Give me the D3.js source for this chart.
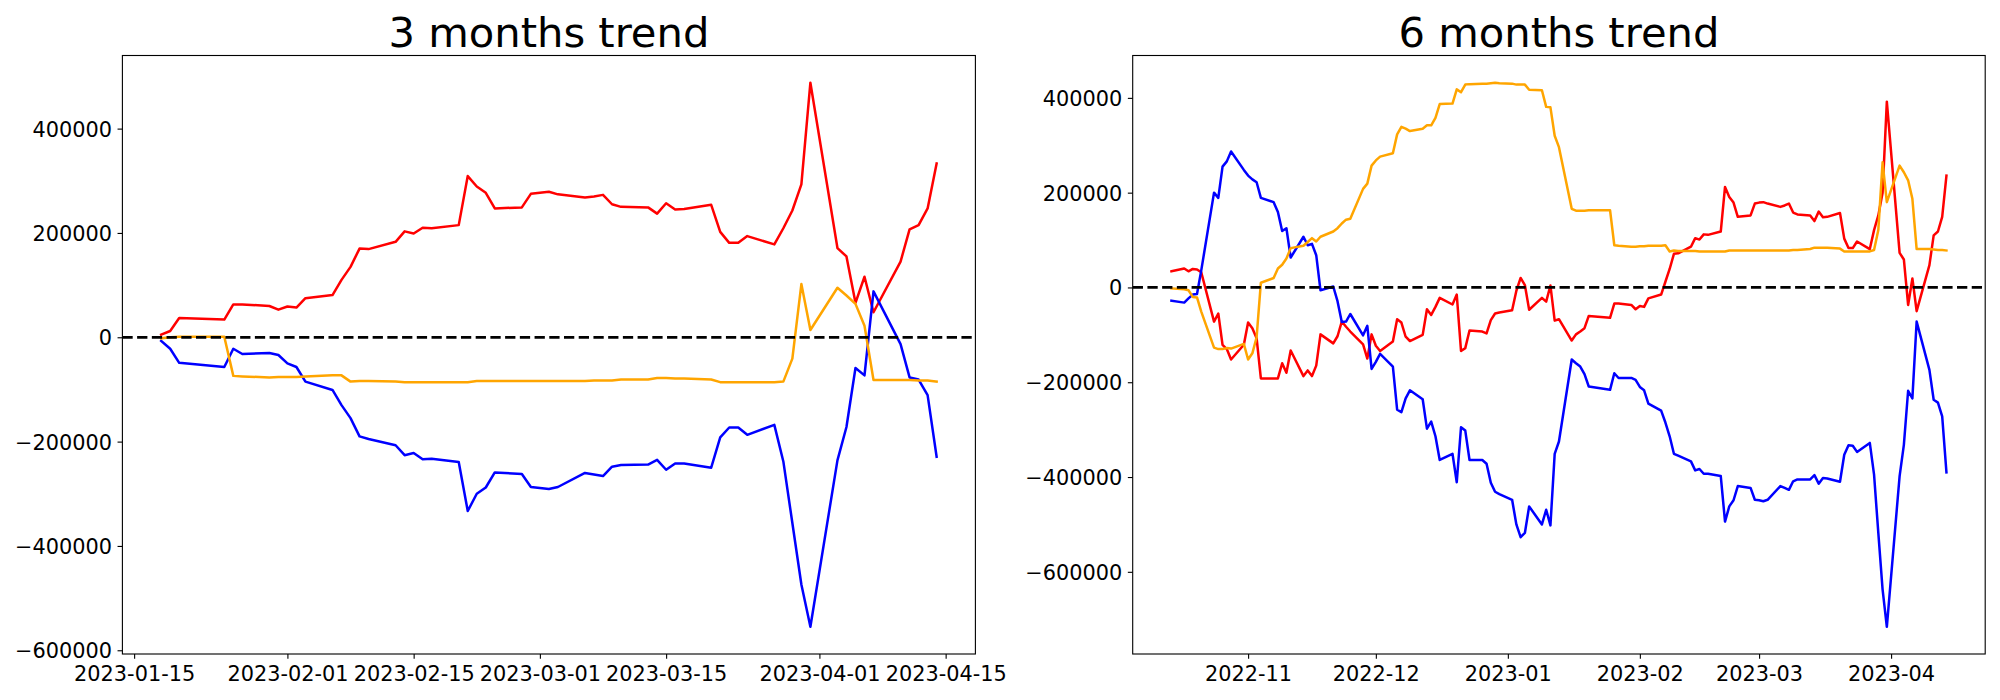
<!DOCTYPE html>
<html>
<head>
<meta charset="utf-8">
<script src="https://cdn.jsdelivr.net/npm/d3@7"></script>
<style>
  html, body { margin: 0; padding: 0; background: #fff; }
  svg text { font-family: "DejaVu Sans", sans-serif; fill: #000; }
</style>
</head>
<body>
<svg id="chart" width="2000" height="700"></svg>
<script>
// ---------------- DATA (values in thousands) ----------------
const threeTitle = "3 months trend";
const sixTitle = "6 months trend";

const threeDates = ["2023-01-18","2023-01-19","2023-01-20","2023-01-25","2023-01-26","2023-01-27","2023-01-30","2023-01-31",
"2023-02-01","2023-02-02","2023-02-03","2023-02-06","2023-02-07","2023-02-08","2023-02-09","2023-02-10","2023-02-13","2023-02-14","2023-02-15","2023-02-16","2023-02-17","2023-02-20","2023-02-21","2023-02-22","2023-02-23","2023-02-24","2023-02-27","2023-02-28",
"2023-03-01","2023-03-02","2023-03-03","2023-03-06","2023-03-07","2023-03-08","2023-03-09","2023-03-10","2023-03-13","2023-03-14","2023-03-15","2023-03-16","2023-03-17","2023-03-20","2023-03-21","2023-03-22","2023-03-23","2023-03-24","2023-03-27","2023-03-28","2023-03-29","2023-03-30","2023-03-31",
"2023-04-03","2023-04-04","2023-04-05","2023-04-06","2023-04-07","2023-04-10","2023-04-11","2023-04-12","2023-04-13","2023-04-14"];

const threeRed = [5,12,37,34,63,63,60,53,
59,57,75,81,110,135,170,169,183,203,199,210,209,215,309,289,277,247,249,275,
277,279,274,268,270,273,255,250,249,237,257,245,246,254,202,181,181,194,178,209,243,293,488,
171,155,66,116,48,145,207,215,247,333];

const threeBlue = [-7,-22,-49,-57,-22,-32,-30,-34,
-50,-57,-85,-101,-130,-155,-190,-195,-207,-226,-222,-234,-233,-239,-333,-300,-288,-259,-262,-287,
-289,-291,-287,-260,-263,-266,-248,-245,-244,-235,-254,-242,-242,-250,-192,-173,-173,-187,-168,-238,-356,-474,-555,
-236,-172,-59,-73,88,-13,-77,-81,-111,-229];

const threeOrange = [-2,0,1,1,-74,-75,-77,-76,
-76,-76,-75,-73,-73,-85,-84,-84,-85,-86,-86,-86,-86,-86,-86,-84,-84,-84,-84,-84,
-84,-84,-84,-84,-83,-83,-83,-81,-81,-78,-78,-79,-79,-81,-86,-86,-86,-86,-86,-85,-41,102,14,
95,80,64,22,-82,-82,-82,-83,-83,-85];

const sixDates = ["2022-10-14","2022-10-17","2022-10-18","2022-10-19","2022-10-20","2022-10-21","2022-10-24","2022-10-25","2022-10-26","2022-10-27","2022-10-28","2022-10-31",
"2022-11-01","2022-11-02","2022-11-03","2022-11-04","2022-11-07","2022-11-08","2022-11-09","2022-11-10","2022-11-11","2022-11-14","2022-11-15","2022-11-16","2022-11-17","2022-11-18","2022-11-21","2022-11-22","2022-11-23","2022-11-24","2022-11-25","2022-11-28","2022-11-29","2022-11-30",
"2022-12-01","2022-12-02","2022-12-05","2022-12-06","2022-12-07","2022-12-08","2022-12-09","2022-12-12","2022-12-13","2022-12-14","2022-12-15","2022-12-16","2022-12-19","2022-12-20","2022-12-21","2022-12-22","2022-12-23","2022-12-26","2022-12-27","2022-12-28","2022-12-29","2022-12-30",
"2023-01-02","2023-01-03","2023-01-04","2023-01-05","2023-01-06","2023-01-09","2023-01-10","2023-01-11","2023-01-12","2023-01-13","2023-01-16","2023-01-17","2023-01-18","2023-01-19","2023-01-20","2023-01-25","2023-01-26","2023-01-27","2023-01-30","2023-01-31",
"2023-02-01","2023-02-02","2023-02-03","2023-02-06","2023-02-07","2023-02-08","2023-02-09","2023-02-10","2023-02-13","2023-02-14","2023-02-15","2023-02-16","2023-02-17","2023-02-20","2023-02-21","2023-02-22","2023-02-23","2023-02-24","2023-02-27","2023-02-28",
"2023-03-01","2023-03-02","2023-03-03","2023-03-06","2023-03-07","2023-03-08","2023-03-09","2023-03-10","2023-03-13","2023-03-14","2023-03-15","2023-03-16","2023-03-17","2023-03-20","2023-03-21","2023-03-22","2023-03-23","2023-03-24","2023-03-27","2023-03-28","2023-03-29","2023-03-30","2023-03-31",
"2023-04-03","2023-04-04","2023-04-05","2023-04-06","2023-04-07","2023-04-10","2023-04-11","2023-04-12","2023-04-13","2023-04-14"];

const sixRed = [34,40,34,39,38,32,-72,-55,-121,-130,-152,-121,
-74,-86,-107,-192,-192,-192,-160,-180,-133,-187,-175,-187,-165,-99,-118,-103,-72,-83,-93,-120,-150,-99,
-123,-134,-114,-67,-74,-104,-113,-100,-46,-58,-41,-22,-36,-15,-134,-128,-91,-93,-97,-69,-55,-53,
-48,-7,20,5,-47,-22,-30,4,-70,-67,-112,-99,-93,-86,-60,-64,-34,-34,-37,-46,
-39,-41,-23,-15,12,39,71,72,86,104,101,112,111,118,212,191,179,149,152,177,
179,180,177,170,173,177,158,154,152,140,160,148,149,157,103,83,83,97,81,121,152,200,392,
73,59,-37,19,-50,47,110,118,149,236];

const sixBlue = [-28,-32,-23,-15,-14,36,200,189,255,266,287,248,
236,228,222,189,180,159,119,125,63,107,89,92,68,-6,2,-29,-73,-72,-56,-101,-81,-172,
-157,-140,-167,-258,-263,-234,-217,-236,-298,-283,-314,-364,-351,-411,-295,-302,-364,-364,-372,-412,-431,-436,
-448,-500,-527,-518,-462,-500,-469,-502,-351,-325,-152,-160,-167,-183,-209,-216,-181,-191,-191,-195,
-210,-217,-245,-260,-285,-314,-351,-355,-367,-386,-383,-393,-393,-398,-494,-462,-449,-419,-423,-448,
-449,-451,-448,-419,-423,-427,-409,-405,-405,-396,-414,-402,-403,-410,-353,-333,-334,-347,-328,-395,-518,-637,-716,
-398,-332,-218,-234,-72,-174,-237,-243,-272,-390];

const sixOrange = [-2,-4,-6,-20,-21,-51,-127,-130,-130,-128,-129,-119,
-152,-139,-105,10,20,40,48,61,83,88,96,104,97,107,118,125,135,143,145,208,219,257,
268,276,283,323,339,335,330,335,342,342,358,387,388,418,412,428,429,430,430,431,432,431,
430,428,428,428,417,416,381,380,320,296,166,162,162,162,163,163,89,88,86,86,
87,87,88,88,89,76,78,77,77,77,76,76,76,76,76,78,78,78,78,78,
78,78,78,78,78,78,79,79,81,84,84,84,84,82,76,76,76,76,76,79,121,264,180,
257,243,226,187,81,81,80,79,79,78];

const threeXTicks = ["2023-01-15","2023-02-01","2023-02-15","2023-03-01","2023-03-15","2023-04-01","2023-04-15"];
const sixXTicks = ["2022-11-01","2022-12-01","2023-01-01","2023-02-01","2023-03-01","2023-04-01"];
const yTicks = [-600000,-400000,-200000,0,200000,400000];

const seriesColors = ["red","blue","orange"];
const UNIT = 1000;

// ---------------- DRAWING ----------------
const svg = d3.select("#chart");
const parse = d3.utcParse("%Y-%m-%d");
const fmtY = v => (v < 0 ? "\u2212" : "") + Math.abs(v).toString();

function panel(cfg) {
  const dates = cfg.dates.map(parse);
  const series = cfg.series.map(arr => arr.map(v => v * UNIT));
  const [dMin, dMax] = d3.extent(dates);
  const span = dMax - dMin;
  const x = d3.scaleUtc()
    .domain([new Date(+dMin - 0.05 * span), new Date(+dMax + 0.05 * span)])
    .range([cfg.x0, cfg.x1]);
  const all = series.flat();
  const vMin = d3.min(all), vMax = d3.max(all), r = vMax - vMin;
  const y = d3.scaleLinear()
    .domain([vMin - 0.05 * r, vMax + 0.05 * r])
    .range([cfg.y1, cfg.y0]);

  const g = svg.append("g");

  // series lines
  const line = d3.line().x((d, i) => x(dates[i])).y(d => y(d));
  series.forEach((s, k) => {
    g.append("path")
      .datum(s)
      .attr("d", line)
      .attr("fill", "none")
      .attr("stroke", seriesColors[k])
      .attr("stroke-width", 2.5)
      .attr("stroke-linejoin", "round")
      .attr("stroke-linecap", "square");
  });

  // zero dashed line
  g.append("line")
    .attr("x1", cfg.x0).attr("x2", cfg.x1)
    .attr("y1", y(0)).attr("y2", y(0))
    .attr("stroke", "#000")
    .attr("stroke-width", 2.78)
    .attr("stroke-dasharray", "10.28,4.44");

  // frame
  g.append("rect")
    .attr("x", cfg.x0).attr("y", cfg.y0)
    .attr("width", cfg.x1 - cfg.x0).attr("height", cfg.y1 - cfg.y0)
    .attr("fill", "none").attr("stroke", "#000").attr("stroke-width", 1.11);

  // x axis
  const xa = g.append("g").attr("transform", `translate(0,${cfg.y1})`)
    .call(d3.axisBottom(x).tickValues(cfg.xTicks.map(parse))
      .tickFormat(d3.utcFormat(cfg.xFmt)).tickSize(4.86).tickSizeOuter(0));
  xa.select(".domain").remove();
  xa.selectAll(".tick line").attr("stroke", "#000").attr("stroke-width", 1.11);
  xa.selectAll(".tick text").attr("y", 26.5).attr("dy", null)
    .style("font-size", "20.83px").style("font-family", "DejaVu Sans");

  // y axis
  const ya = g.append("g").attr("transform", `translate(${cfg.x0},0)`)
    .call(d3.axisLeft(y).tickValues(yTicks).tickFormat(fmtY).tickSize(4.86).tickSizeOuter(0));
  ya.select(".domain").remove();
  ya.selectAll(".tick line").attr("stroke", "#000").attr("stroke-width", 1.11);
  ya.selectAll(".tick text").attr("x", -10.5).attr("dy", "0.36em")
    .style("font-size", "20.83px").style("font-family", "DejaVu Sans");

  // title
  g.append("text")
    .attr("x", (cfg.x0 + cfg.x1) / 2).attr("y", 47)
    .attr("text-anchor", "middle")
    .style("font-size", "41.67px")
    .text(cfg.title);
}

panel({
  title: threeTitle, dates: threeDates, series: [threeRed, threeBlue, threeOrange],
  xTicks: threeXTicks, xFmt: "%Y-%m-%d",
  x0: 122.4, x1: 975.4, y0: 55.5, y1: 654
});
panel({
  title: sixTitle, dates: sixDates, series: [sixRed, sixBlue, sixOrange],
  xTicks: sixXTicks, xFmt: "%Y-%m",
  x0: 1132.7, x1: 1985.2, y0: 55.5, y1: 654
});
</script>
</body>
</html>
